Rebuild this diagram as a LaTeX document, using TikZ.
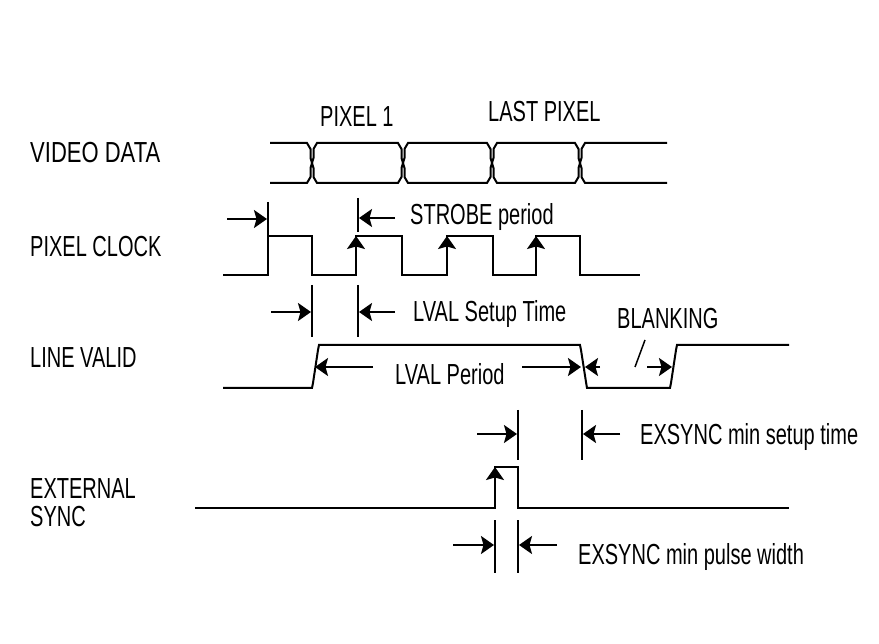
\documentclass[tikz,border=0pt]{standalone}
\usepackage{fontspec}
\setmainfont[FakeStretch=0.69]{Liberation Sans}
\usetikzlibrary{arrows.meta}
\begin{document}
\begin{tikzpicture}[x=1pt,y=-1pt,
  sig/.style={line width=2pt, line join=miter},
  tickline/.style={line width=2pt},
  dimarrow/.style={line width=2pt, -{Stealth[length=13pt,width=18pt,inset=2.5pt]}},
  edgehead/.style={line width=2pt, -{Stealth[length=13pt,width=18pt,inset=2.5pt]}},
  lbl/.style={anchor=base west, inner sep=0pt, font=\fontsize{29}{34}\selectfont}]
\fill[white] (0,0) rectangle (879,644);
\useasboundingbox (0,0) rectangle (879,644);

% labels
\node[lbl, xscale=1.1, transform shape] (vd) at (30,163) {VIDEO DATA};
\node[lbl] (pc) at (30,257) {PIXEL CLOCK};
\node[lbl] (lv) at (30,368) {LINE VALID};
\node[lbl] (es1) at (30,498) {EXTERNAL};
\node[lbl] (es2) at (30,526) {SYNC};
\node[lbl] (p1) at (320,127) {PIXEL 1};
\node[lbl] (lp) at (488,122) {LAST PIXEL};
\node[lbl] (sp) at (410,225) {STROBE period};
\node[lbl] (lst) at (413,322) {LVAL Setup Time};
\node[lbl] (bl) at (617,329) {BLANKING};
\node[lbl] (lvp) at (395,385) {LVAL Period};
\node[lbl] (est) at (640,445) {EXSYNC min setup time};
\node[lbl] (epw) at (578,564) {EXSYNC min pulse width};

% video data
\draw[sig] (270,143) -- (307,143) -- (310.5,149) -- (310.5,158) -- (312,163)
  -- (310.5,168) -- (310.5,177) -- (307,183) -- (270,183);
\foreach \a/\b in {312/403,403/492,492/580}
  \draw[sig] (\a+5,143) -- (\b-5,143) -- (\b-1.5,149) -- (\b-1.5,158) -- (\b,163)
     -- (\b-1.5,168) -- (\b-1.5,177) -- (\b-5,183)
     -- (\a+5,183) -- (\a+1.5,177) -- (\a+1.5,168) -- (\a,163) -- (\a+1.5,158)
     -- (\a+1.5,149) -- cycle;
\draw[sig] (667,143) -- (585,143) -- (581.5,149) -- (581.5,158) -- (580,163)
  -- (581.5,168) -- (581.5,177) -- (585,183) -- (667,183);

% pixel clock
\draw[sig] (223,275) -- (268,275) -- (268,236) -- (312,236) -- (312,275) -- (356,275)
  -- (356,236) -- (402,236) -- (402,275) -- (447,275) -- (447,236) -- (493,236)
  -- (493,275) -- (536,275) -- (536,236) -- (580,236) -- (580,275) -- (640,275);
\foreach \x in {356,447,536}
  \draw[edgehead] (\x,262) -- (\x,236);
\draw[tickline] (268,202) -- (268,236);
\draw[tickline] (358,198) -- (358,232);
\draw[dimarrow] (227,219) -- (267,219);
\draw[dimarrow] (395,218) -- (359,218);

% LVAL setup time
\draw[tickline] (312,285) -- (312,337);
\draw[tickline] (358,285) -- (358,337);
\draw[dimarrow] (271,312) -- (311,312);
\draw[dimarrow] (395,312) -- (359,312);

% line valid
\draw[sig] (223,388) -- (312,388) -- (313,383) -- (318,350) -- (319,345) -- (580,345)
  -- (581,350) -- (586,382) -- (587,388) -- (670,388) -- (671,383) -- (676,350)
  -- (677,345) -- (789,345);
\draw[dimarrow] (373,367) -- (315,367);
\draw[dimarrow] (522,367) -- (581,367);
\draw[dimarrow] (600,367) -- (585,367);
\draw[dimarrow] (647,367) -- (672,367);
\draw[line width=1.5pt] (645,340) -- (635,367);

% external sync
\draw[sig] (195,508) -- (495,508) -- (495,467) -- (518,467) -- (518,508) -- (789,508);
\draw[edgehead] (495,492) -- (495,467);
\draw[tickline] (518,410) -- (518,460);
\draw[tickline] (582,410) -- (582,460);
\draw[dimarrow] (477,434) -- (517,434);
\draw[dimarrow] (620,434) -- (583,434);
\draw[tickline] (495,520) -- (495,573);
\draw[tickline] (518,520) -- (518,573);
\draw[dimarrow] (453,545) -- (494,545);
\draw[dimarrow] (557,545) -- (519,545);
\end{tikzpicture}
\end{document}
